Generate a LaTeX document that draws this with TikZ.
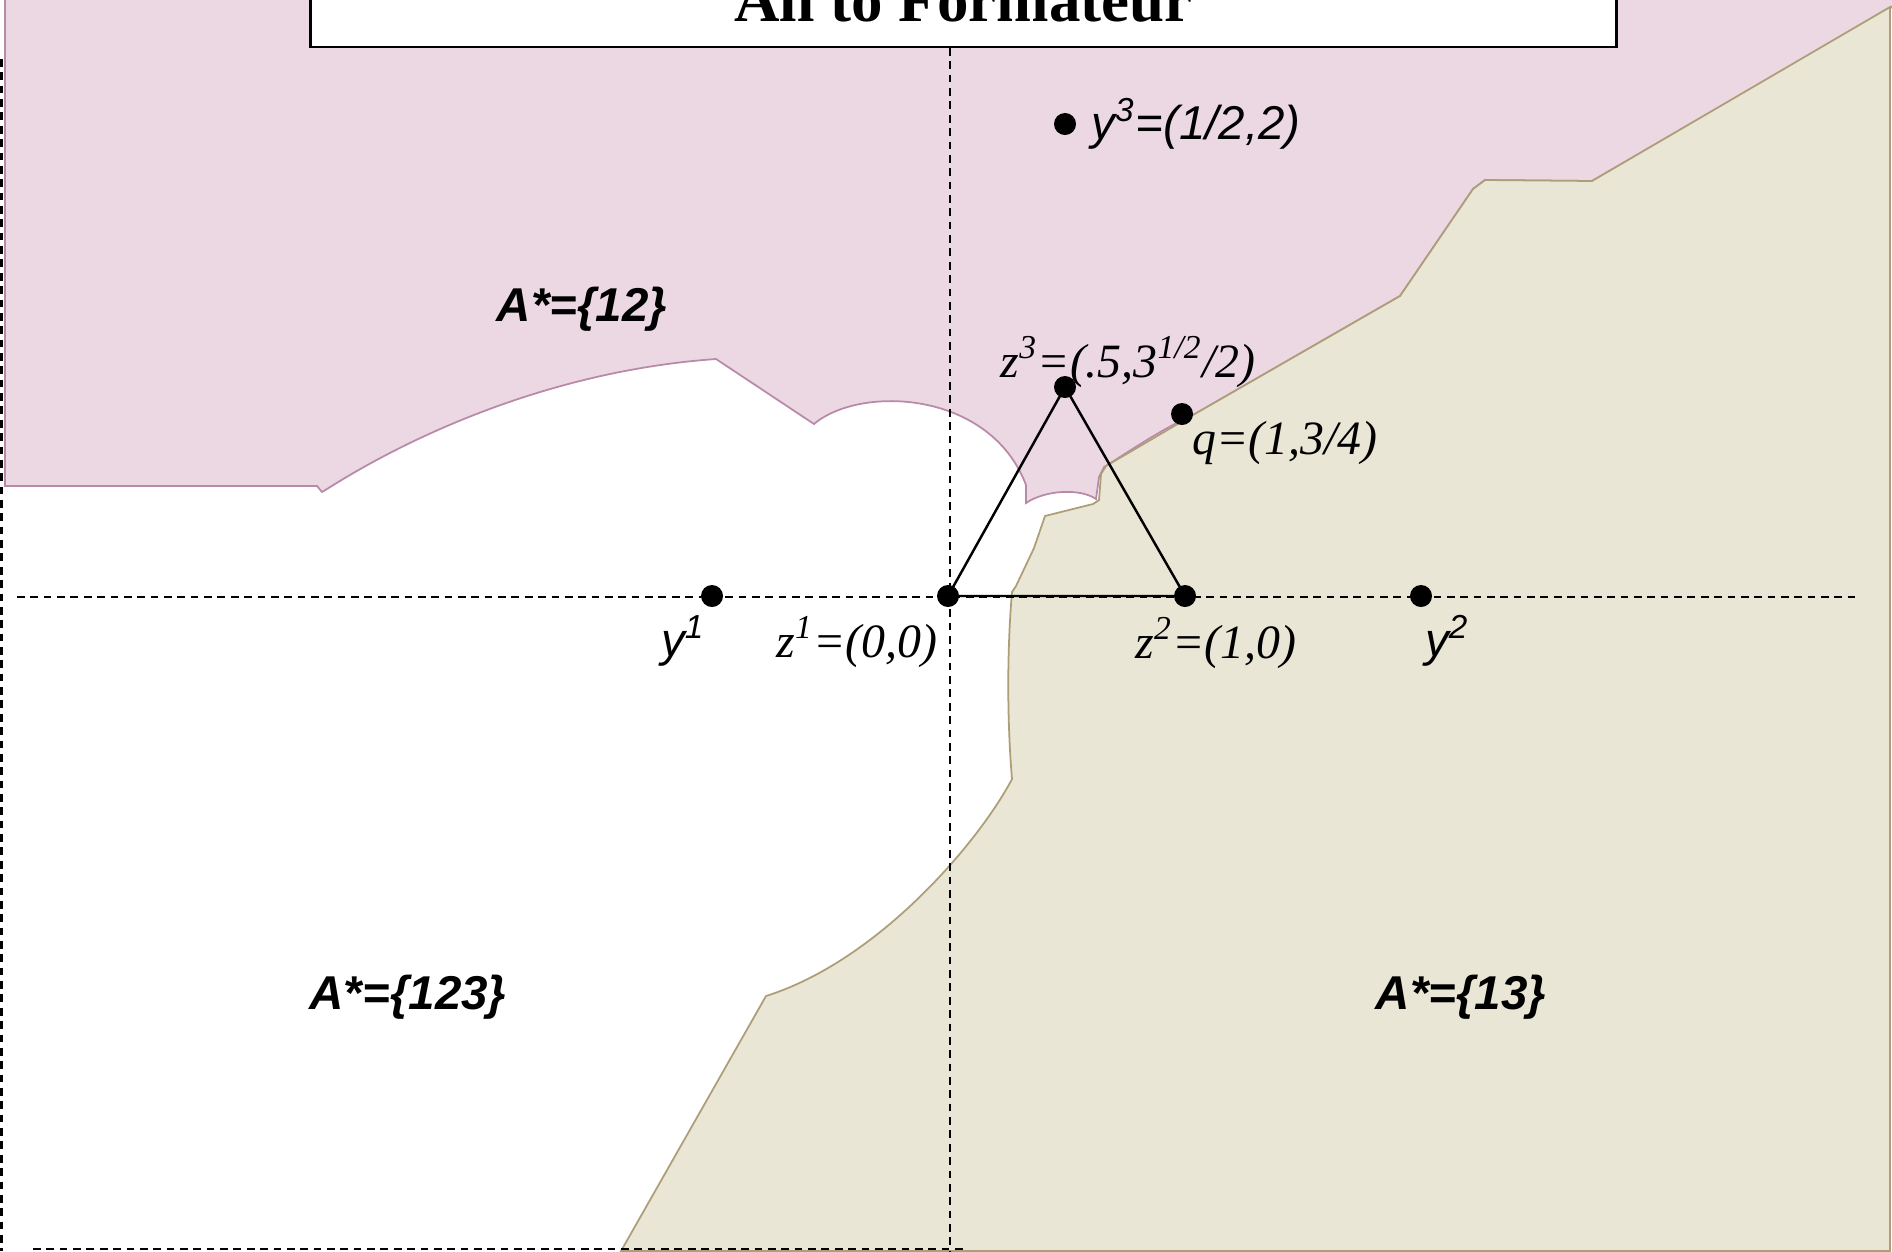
\documentclass[tikz,border=0pt]{standalone}
\usepackage{fontspec}
\setmainfont{Liberation Serif}
\setsansfont{Liberation Sans}
\usepackage{tikz}
\usetikzlibrary{positioning}
\definecolor{pinkbg}{HTML}{EBD8E3}
\definecolor{pinkln}{HTML}{B98AA8}
\definecolor{tanbg}{HTML}{E9E6D6}
\definecolor{tanln}{HTML}{AE9E78}
\tikzset{
  blob/.style={circle,fill=black,inner sep=0pt,minimum size=2.2mm},
  ax/.style={draw=black,line width=0.75pt,dash pattern=on 2.2pt off 1.6pt},
  tri/.style={draw=black,line width=0.7pt},
  lbls/.style={font=\sffamily\itshape\fontsize{13.5}{16}\selectfont,inner sep=0pt},
  lblr/.style={font=\itshape\fontsize{13.6}{16}\selectfont,inner sep=0pt},
  reg/.style={font=\sffamily\bfseries\itshape\fontsize{13.5}{16}\selectfont,inner sep=0pt},
  ttlbox/.style={draw=black,line width=0.7pt,fill=white,
    font=\bfseries\fontsize{17.9}{20}\selectfont,minimum width=13.05cm,minimum height=9.4mm},
}

\begin{document}
\begin{tikzpicture}[x=0.01cm,y=-0.01cm]
  \path[use as bounding box,clip] (0,0) rectangle (1892,1251);
  % regions
  \filldraw[fill=pinkbg,draw=pinkln,line width=0.5pt] (5,-5) -- (5,486) -- (317,486) -- (322,492) -- (327,489)
    .. controls (420,430) and (560,370) .. (716,359) -- (814,424)
    .. controls (860,385) and (990,390) .. (1026,485) -- (1026,503)
    .. controls (1045,490) and (1080,488) .. (1096,499) -- (1099,477) -- (1104,467)
    .. controls (1130,451) and (1160,430) .. (1193,415) -- (1400,296) -- (1473,189) -- (1485,180)
    -- (1592,181) -- (1892,7) -- (1900,-5) -- cycle;
  \filldraw[fill=tanbg,draw=tanln,line width=0.5pt] (1890,7) -- (1592,181) -- (1485,180) -- (1473,189)
    -- (1400,296) -- (1193,415) -- (1106,466) -- (1101,474) -- (1099,500) -- (1093,504) -- (1045,516)
    -- (1034,548) -- (1016,586) -- (1012,592) .. controls (1007,650) and (1007,720) .. (1012,779)
    .. controls (980,840) and (880,960) .. (766,996) -- (621,1251) -- (1890,1251) -- cycle;
  % dashed axes
  \coordinate (hl) at (17,597); \coordinate (hr) at (1855,597);
  \coordinate (vt) at (950,48); \coordinate (vb) at (950,1251);
  \coordinate (lt) at (1.5,59); \coordinate (lb) at (1.5,1251);
  \coordinate (bl) at (33,1249); \coordinate (br) at (965,1249);
  \draw[ax] (hl) -- (hr); \draw[ax] (vt) -- (vb);
  \draw[ax] (lt) -- (lb); \draw[ax] (bl) -- (br);
  % points
  \node[blob] (z1) at (948,596) {};
  \node[blob] (z2) at (1185,596) {};
  \node[blob] (z3) at (1065,387) {};
  \node[blob] (q) at (1182,414) {};
  \node[blob] (y1) at (712,596) {};
  \node[blob] (y2) at (1421,596) {};
  \node[blob] (y3) at (1065,124) {};
  \draw[tri] (z1.center) -- (z2.center) -- (z3.center) -- (z1.center);
  % labels
  \node[lbls,right=4pt of y3] (ly3) {y\textsuperscript{3}=(1/2,2)};
  \node[lbls] (ly1) at (683,641) {y\textsuperscript{1}};
  \node[lbls] (ly2) at (1447,641) {y\textsuperscript{2}};
  \node[lblr] (lz1) at (857,642) {z\textsuperscript{1}=(0,0)};
  \node[lblr] (lz2) at (1216,643) {z\textsuperscript{2}=(1,0)};
  \node[lblr] (lz3) at (1128,362) {z\textsuperscript{3}=(.5,3\textsuperscript{1/2}/2)};
  \node[lblr] (lq) at (1285,443) {q=(1,3/4)};
  \node[reg] (a12) at (582,309) {A*=\{12\}};
  \node[reg] (a123) at (408,997) {A*=\{123\}};
  \node[reg] (a13) at (1461,997) {A*=\{13\}};
  % title
  \node[ttlbox,anchor=south] (ttl) at (963.5,48) {All to Formateur};
\end{tikzpicture}
\end{document}
